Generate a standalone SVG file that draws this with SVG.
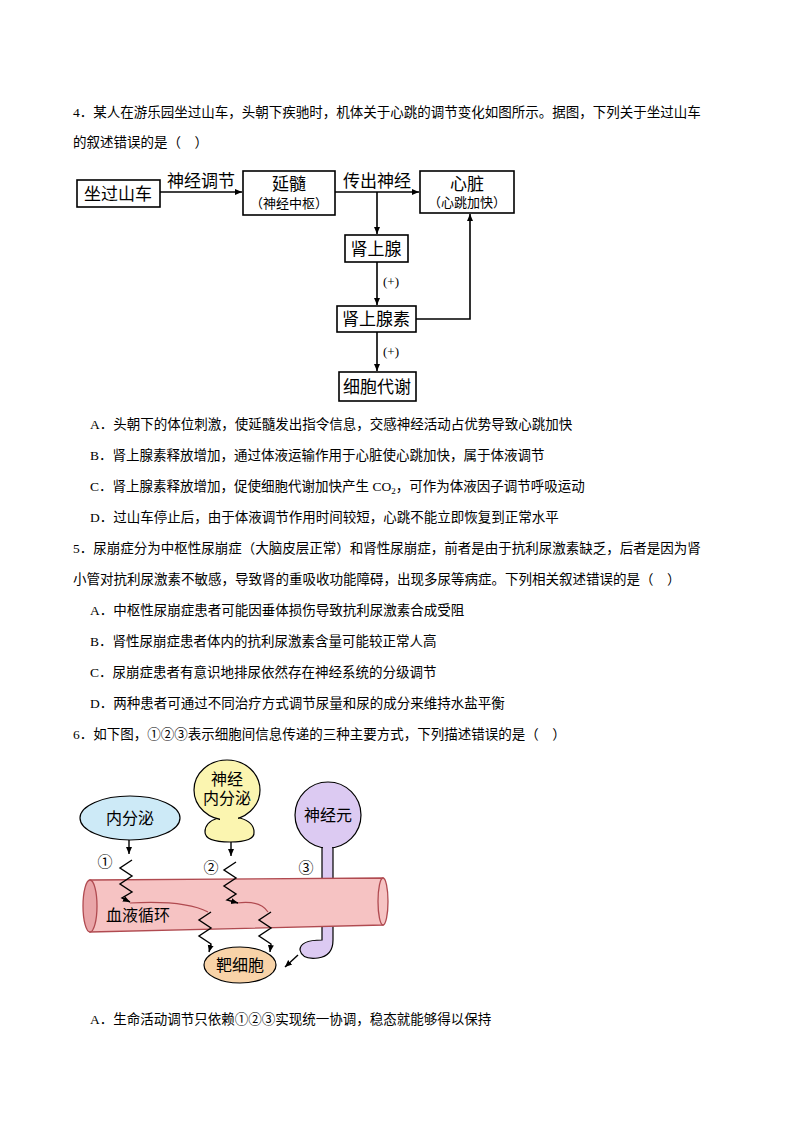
<svg xmlns="http://www.w3.org/2000/svg" width="794" height="1123" viewBox="0 0 794 1123">
<defs>
<style>
text{font-family:"Liberation Serif","Noto Sans CJK SC",serif;fill:#000}
.q{font-size:13.5px}
.b{font-size:17px}
.s{font-size:13px}
.box{fill:#fff;stroke:#000;stroke-width:1.6}
.ln{fill:none;stroke:#000;stroke-width:1.6}
.zz{fill:none;stroke:#000;stroke-width:1.4}
</style>
<marker id="ah" markerWidth="8" markerHeight="8" refX="7" refY="4" orient="auto" markerUnits="userSpaceOnUse"><path d="M0,1 L7,4 L0,7 z" fill="#000"/></marker>
</defs>
<rect width="794" height="1123" fill="#fff"/>
<text class="q" x="73" y="117">4．某人在游乐园坐过山车，头朝下疾驰时，机体关于心跳的调节变化如图所示。据图，下列关于坐过山车</text>
<text class="q" x="73" y="147">的叙述错误的是（　）</text>

<g id="n1"><rect class="box" x="77" y="180" width="83" height="27"/><text class="b" x="118" y="200" text-anchor="middle">坐过山车</text></g>
<g id="n2"><rect class="box" x="243" y="171" width="92" height="44"/><text class="b" x="289" y="190" text-anchor="middle">延髓</text><text class="s" x="289" y="208" text-anchor="middle">（神经中枢）</text></g>
<g id="n3"><rect class="box" x="420" y="171" width="94" height="42"/><text class="b" x="467" y="190" text-anchor="middle">心脏</text><text class="s" x="467" y="207" text-anchor="middle">（心跳加快）</text></g>
<g id="n4"><rect class="box" x="345" y="235" width="63" height="27"/><text class="b" x="376" y="255" text-anchor="middle">肾上腺</text></g>
<g id="n5"><rect class="box" x="337" y="306" width="79" height="26"/><text class="b" x="376" y="325" text-anchor="middle">肾上腺素</text></g>
<g id="n6"><rect class="box" x="339" y="372" width="77" height="29"/><text class="b" x="377" y="393" text-anchor="middle">细胞代谢</text></g>
<g id="edges">
<line class="ln" x1="160" y1="192" x2="242" y2="192" marker-end="url(#ah)"/>
<text class="b" x="201" y="187" text-anchor="middle">神经调节</text>
<line class="ln" x1="335" y1="192" x2="419" y2="192" marker-end="url(#ah)"/>
<text class="b" x="377" y="187" text-anchor="middle">传出神经</text>
<line class="ln" x1="377" y1="192" x2="377" y2="234" marker-end="url(#ah)"/>
<line class="ln" x1="377" y1="262" x2="377" y2="305" marker-end="url(#ah)"/>
<text class="s" x="391" y="286" text-anchor="middle">(+)</text>
<polyline class="ln" points="416,319 470,319 470,214" marker-end="url(#ah)"/>
<line class="ln" x1="377" y1="332" x2="377" y2="371" marker-end="url(#ah)"/>
<text class="s" x="391" y="356" text-anchor="middle">(+)</text>
</g>

<text class="q" x="90" y="429">A．头朝下的体位刺激，使延髓发出指令信息，交感神经活动占优势导致心跳加快</text>
<text class="q" x="90" y="460">B．肾上腺素释放增加，通过体液运输作用于心脏使心跳加快，属于体液调节</text>
<text class="q" x="90" y="491">C．肾上腺素释放增加，促使细胞代谢加快产生 CO<tspan font-size="9" dy="3">2</tspan><tspan dy="-3">，可作为体液因子调节呼吸运动</tspan></text>
<text class="q" x="90" y="522">D．过山车停止后，由于体液调节作用时间较短，心跳不能立即恢复到正常水平</text>
<text class="q" x="73" y="553">5．尿崩症分为中枢性尿崩症（大脑皮层正常）和肾性尿崩症，前者是由于抗利尿激素缺乏，后者是因为肾</text>
<text class="q" x="73" y="584">小管对抗利尿激素不敏感，导致肾的重吸收功能障碍，出现多尿等病症。下列相关叙述错误的是（　）</text>
<text class="q" x="90" y="615">A．中枢性尿崩症患者可能因垂体损伤导致抗利尿激素合成受阻</text>
<text class="q" x="90" y="646">B．肾性尿崩症患者体内的抗利尿激素含量可能较正常人高</text>
<text class="q" x="90" y="677">C．尿崩症患者有意识地排尿依然存在神经系统的分级调节</text>
<text class="q" x="90" y="708">D．两种患者可通过不同治疗方式调节尿量和尿的成分来维持水盐平衡</text>
<text class="q" x="73" y="739">6．如下图，①②③表示细胞间信息传递的三种主要方式，下列描述错误的是（　）</text>

<g id="g3"><path d="M322,845 L322,940 Q300,940 300,950 Q302,960 318,958 Q333,956 333,940 L333,845 Z" fill="#dccaf2" stroke="#000" stroke-width="1.2"/><circle cx="328" cy="815" r="33" fill="#dccaf2" stroke="#000" stroke-width="1.2"/><rect x="323" y="843" width="9" height="8" fill="#dccaf2"/><text x="328" y="821" font-size="16" text-anchor="middle">神经元</text></g>
<g id="vessel">
<path d="M90,880 L383,878 L383,925 L90,932 Z" fill="#f6c3c3" stroke="#b04a50" stroke-width="1.3"/>
<ellipse cx="90" cy="906" rx="7" ry="26" fill="#e9a5a8" stroke="#b04a50" stroke-width="1.3"/>
<ellipse cx="383" cy="901.5" rx="5" ry="23.5" fill="#f6c3c3" stroke="#b04a50" stroke-width="1.3"/>
<path d="M130,903 Q185,900 208,912" fill="none" stroke="#b04a50" stroke-width="1.2"/>
<path d="M237,903 Q260,900 268,912" fill="none" stroke="#b04a50" stroke-width="1.2"/>
<text x="106" y="921" font-size="16">血液循环</text>
</g>
<g id="g1"><ellipse cx="130" cy="818" rx="50" ry="22" fill="#cdeaf7" stroke="#000" stroke-width="1.2"/><text x="130" y="824" font-size="16" text-anchor="middle">内分泌</text></g>
<g id="g2"><path d="M218,818 Q205,822 205,832 Q205,842 230,842 Q255,842 254,832 Q254,822 240,818 Z" fill="#fbf5b0" stroke="#000" stroke-width="1.2"/><ellipse cx="227" cy="790" rx="33" ry="30" fill="#fbf5b0" stroke="#000" stroke-width="1.2"/><rect x="220" y="815" width="18" height="8" fill="#fbf5b0"/><text x="227" y="785" font-size="16" text-anchor="middle">神经</text><text x="227" y="804" font-size="16" text-anchor="middle">内分泌</text></g>
<g id="g4"><ellipse cx="240" cy="965" rx="36" ry="18" fill="#f8d3a8" stroke="#000" stroke-width="1.2"/><text x="240" y="971" font-size="16" text-anchor="middle">靶细胞</text></g>
<g id="edges2">
<line class="zz" x1="129" y1="840" x2="129" y2="854" marker-end="url(#ah)"/>
<polyline class="zz" points="132,860 120,868 132,876 120,884 132,892 122,898 130,902" marker-end="url(#ah)"/>
<line class="zz" x1="231" y1="842" x2="231" y2="856" marker-end="url(#ah)"/>
<polyline class="zz" points="236,862 224,870 236,878 224,886 236,894 227,900 238,903" marker-end="url(#ah)"/>
<polyline class="zz" points="211,912 199,920 211,928 199,936 211,944 209,952" marker-end="url(#ah)"/>
<polyline class="zz" points="271,912 259,920 271,928 259,936 271,944 270,952" marker-end="url(#ah)"/>
<line class="zz" x1="298" y1="955" x2="285" y2="967" marker-end="url(#ah)"/>
<text x="105" y="867" font-size="15" text-anchor="middle">①</text>
<text x="211" y="873" font-size="15" text-anchor="middle">②</text>
<text x="306" y="873" font-size="15" text-anchor="middle">③</text>
</g>
<text class="q" x="90" y="1024">A．生命活动调节只依赖①②③实现统一协调，稳态就能够得以保持</text>
</svg>
